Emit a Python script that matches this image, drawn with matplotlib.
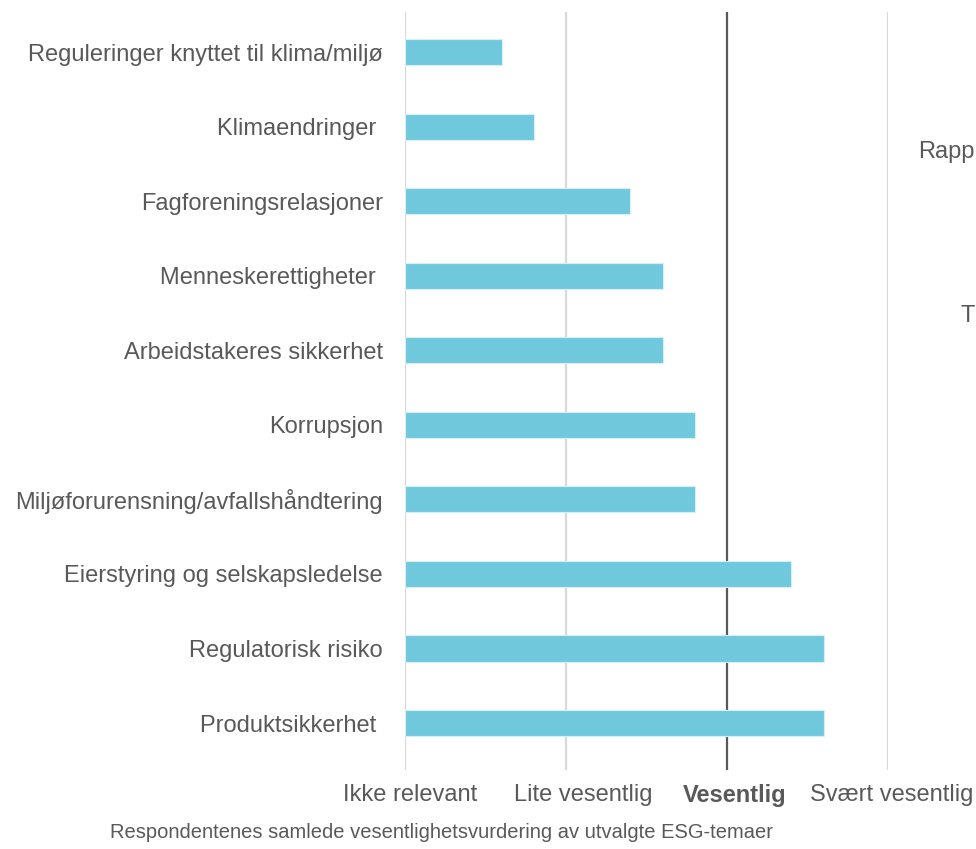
import matplotlib.pyplot as plt
from matplotlib.transforms import ScaledTranslation

plt.rcParams['font.family'] = ['Liberation Sans', 'DejaVu Sans']

topics = ['Reguleringer knyttet til klima/miljø', 'Klimaendringer ', 'Fagforeningsrelasjoner',
          'Menneskerettigheter ', 'Arbeidstakeres sikkerhet', 'Korrupsjon',
          'Miljøforurensning/avfallshåndtering', 'Eierstyring og selskapsledelse',
          'Regulatorisk risiko', 'Produktsikkerhet ']
scores = [0.6, 0.8, 1.4, 1.6, 1.6, 1.8, 1.8, 2.4, 2.6, 2.6]
levels = ['Ikke relevant', 'Lite vesentlig', 'Vesentlig', 'Svært vesentlig']

grey = '#595959'
fig = plt.figure(figsize=(9.76, 8.49), dpi=100)
ax = fig.add_axes([405 / 976, 1 - 770 / 849, 483 / 976, 758 / 849])

ypos = list(range(len(topics)))
ax.barh(ypos, scores, height=0.35, color='#70C8DC', edgecolor='#d6eef4', linewidth=0.8, zorder=3)

for i in range(len(levels)):
    if i == 2:
        ax.axvline(i, color=grey, lw=1.6, zorder=2)
    else:
        ax.axvline(i, color='#d9d9d9', lw=1.6, zorder=1)

ax.set_xlim(0, 3)
ax.set_ylim(9.63, -0.54)
ax.set_yticks(ypos)
ax.set_yticklabels(topics, fontsize=17, color=grey)
ax.tick_params(axis='y', length=0, pad=16)
ax.set_xticks(range(len(levels)))
ax.set_xticklabels(levels, fontsize=17, color=grey)
ax.get_xticklabels()[2].set_fontweight('bold')
ax.tick_params(axis='x', length=0, pad=10)
# labels in the original sit a little right of their gridlines
for lab, dx in zip(ax.get_xticklabels(), [5, 17, 8, 4]):
    lab.set_transform(lab.get_transform() + ScaledTranslation(dx / 100, 0, fig.dpi_scale_trans))
for s in ax.spines.values():
    s.set_visible(False)

fig.text(441 / 976, 1 - 833 / 849, 'Respondentenes samlede vesentlighetsvurdering av utvalgte ESG-temaer',
         ha='center', va='center', fontsize=14.5, color=grey)
fig.text(975 / 976, 1 - 152 / 849, 'Rapp', ha='right', va='center', fontsize=17, color=grey)
fig.text(975 / 976, 1 - 316 / 849, 'T', ha='right', va='center', fontsize=17, color=grey)

fig.savefig('out.png', dpi=100)
